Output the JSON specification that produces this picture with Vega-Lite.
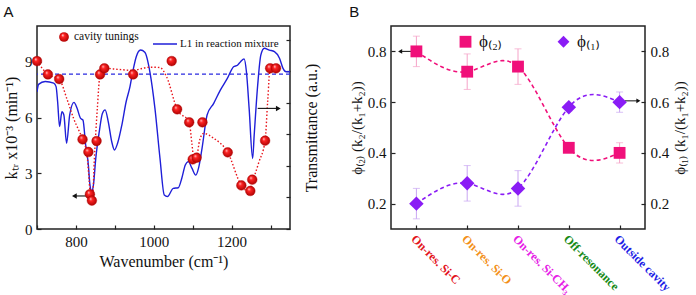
{
  "$schema": "https://vega.github.io/schema/vega-lite/v6.json",
  "background": "white",
  "padding": {"left": 2, "top": 4, "right": 0, "bottom": 0},
  "config": {
    "font": "Liberation Serif",
    "view": {"stroke": "#222", "strokeWidth": 1.5},
    "axis": {"domain": false, "grid": false, "tickColor": "#222", "tickSize": -4, "tickWidth": 1.2, "labelFont": "Liberation Serif", "labelFontSize": 15, "labelColor": "#111", "labelPadding": 9, "titleFont": "Liberation Serif", "titleFontSize": 16, "titleFontWeight": "normal", "titleColor": "#111"},
    "title": {"font": "Liberation Sans", "fontSize": 15, "fontWeight": "normal", "anchor": "start", "frame": "bounds", "color": "#111"},
    "legend": {"labelFont": "Liberation Serif", "labelColor": "#111"}
  },
  "spacing": 27,
  "resolve": {
    "scale": {"color": "independent", "shape": "independent", "stroke": "independent"},
    "legend": {"color": "independent", "shape": "independent", "stroke": "independent"}
  },
  "hconcat": [
    {
      "title": {"text": "A", "offset": 6},
      "width": 253,
      "height": 203,
      "layer": [
        {
          "data": {"values": [
            {"wn":700,"T":4.35},{"wn":704,"T":4.59},{"wn":721,"T":4.68},{"wn":743,"T":4.63},{"wn":749,"T":4.52},{"wn":753,"T":4.04},{"wn":758,"T":3.25},{"wn":764,"T":3.72},{"wn":769,"T":3.62},{"wn":776,"T":2.72},{"wn":784,"T":3.62},{"wn":795,"T":4.02},{"wn":803,"T":3.83},{"wn":812,"T":3.51},{"wn":818,"T":3.46},{"wn":825,"T":2.67},{"wn":832,"T":2.03},{"wn":836,"T":1.40},{"wn":841,"T":1.18},{"wn":845,"T":1.40},{"wn":851,"T":2.24},{"wn":860,"T":3.09},{"wn":868,"T":3.67},{"wn":875,"T":3.78},{"wn":883,"T":3.41},{"wn":892,"T":2.77},{"wn":899,"T":2.51},{"wn":907,"T":2.72},{"wn":918,"T":3.30},{"wn":929,"T":4.04},{"wn":938,"T":4.47},{"wn":946,"T":4.99},{"wn":955,"T":5.47},{"wn":966,"T":5.68},{"wn":977,"T":5.61},{"wn":990,"T":4.99},{"wn":1003,"T":3.83},{"wn":1016,"T":2.24},{"wn":1027,"T":1.08},{"wn":1035,"T":1.03},{"wn":1050,"T":1.29},{"wn":1063,"T":1.31},{"wn":1072,"T":1.61},{"wn":1081,"T":2.03},{"wn":1089,"T":2.14},{"wn":1098,"T":1.93},{"wn":1108,"T":1.71},{"wn":1115,"T":1.93},{"wn":1124,"T":2.56},{"wn":1137,"T":3.62},{"wn":1154,"T":3.99},{"wn":1171,"T":4.41},{"wn":1189,"T":4.78},{"wn":1205,"T":5.15},{"wn":1215,"T":5.2},{"wn":1223,"T":5.31},{"wn":1232,"T":5.4},{"wn":1238,"T":5.0},{"wn":1245,"T":3.83},{"wn":1254,"T":2.24},{"wn":1258,"T":2.98},{"wn":1267,"T":4.57},{"wn":1275,"T":5.52},{"wn":1284,"T":5.74},{"wn":1297,"T":5.68},{"wn":1310,"T":5.63},{"wn":1323,"T":5.42},{"wn":1332,"T":5.10},{"wn":1340,"T":4.99},{"wn":1350,"T":4.99}
          ]},
          "mark": {"type": "line", "strokeWidth": 1.4, "interpolate": "monotone", "clip": true},
          "encoding": {
            "x": {"field": "wn", "type": "quantitative", "scale": {"domain": [700, 1350], "nice": false, "zero": false},
                  "axis": {"values": [700, 800, 900, 1000, 1100, 1200, 1300], "labelExpr": "datum.value % 200 == 0 ? datum.value : ''", "title": "Wavenumber (cm⁻¹)", "titlePadding": 4}},
            "y": {"field": "T", "type": "quantitative", "scale": {"domain": [0, 6.444], "nice": false},
                  "axis": {"orient": "right", "values": [0, 1, 2, 3, 4, 5, 6], "labels": false, "title": "Transmittance (a.u.)", "titleAngle": 270, "titleBaseline": "top", "titlePadding": 13}},
            "stroke": {"datum": "L1 in reaction mixture", "type": "nominal", "scale": {"range": ["#1f1fd8"]},
                       "legend": {"title": null, "orient": "none", "legendX": 115, "legendY": 5, "symbolType": "stroke", "symbolSize": 576, "symbolStrokeWidth": 1.5, "labelFontSize": 11, "labelOffset": 2}}
          }
        },
        {
          "layer": [
            {
              "data": {"values": [{"k": 8.35}]},
              "mark": {"type": "rule", "color": "#2a2ae0", "strokeDash": [4, 3], "strokeWidth": 1.2},
              "encoding": {
                "y": {"field": "k", "type": "quantitative", "scale": {"domain": [0, 10.94], "nice": false},
                      "axis": {"orient": "left", "values": [0, 1.5, 3, 4.5, 6, 7.5, 9, 10.5], "labelExpr": "datum.value % 3 == 0 ? datum.value : ''", "title": "kₜᵣ x10⁻³ (min⁻¹)", "titlePadding": 5}}
              }
            },
            {
              "data": {"values": [
                {"wn":700,"k":9.05},{"wn":728,"k":8.33},{"wn":757,"k":8.08},{"wn":777,"k":7.0},{"wn":794,"k":5.96},{"wn":817,"k":4.83},{"wn":828,"k":4.1},{"wn":834,"k":2.6},{"wn":838,"k":1.6},{"wn":843,"k":1.7},{"wn":847,"k":3.6},{"wn":855,"k":6.5},{"wn":862,"k":8.33},{"wn":873,"k":8.66},{"wn":910,"k":8.6},{"wn":945,"k":8.55},{"wn":990,"k":8.72},{"wn":1016,"k":8.7},{"wn":1033,"k":8.2},{"wn":1060,"k":6.45},{"wn":1091,"k":5.75},{"wn":1098,"k":4.6},{"wn":1103,"k":3.8},{"wn":1110,"k":3.9},{"wn":1118,"k":4.8},{"wn":1128,"k":5.15},{"wn":1154,"k":4.89},{"wn":1190,"k":4.13},{"wn":1225,"k":2.35},{"wn":1245,"k":2.0},{"wn":1253,"k":2.5},{"wn":1270,"k":3.6},{"wn":1286,"k":4.76},{"wn":1293,"k":7.0},{"wn":1299,"k":8.66},{"wn":1314,"k":8.66}
              ]},
              "mark": {"type": "line", "color": "#e8141b", "strokeWidth": 1.4, "strokeDash": [1.5, 2], "interpolate": "monotone"},
              "encoding": {
                "x": {"field": "wn", "type": "quantitative"},
                "y": {"field": "k", "type": "quantitative"}
              }
            },
            {
              "data": {"values": [
                {"wn":829,"wn2":796,"k":1.78,"head":"left"},
                {"wn":1267,"wn2":1320,"k":6.5,"head":"right"}
              ]},
              "layer": [
                {"mark": {"type": "rule", "color": "#111", "strokeWidth": 1.1},
                 "encoding": {"x": {"field": "wn", "type": "quantitative"}, "x2": {"field": "wn2"}, "y": {"field": "k", "type": "quantitative"}}},
                {"transform": [{"filter": "datum.head == 'left'"}],
                 "mark": {"type": "point", "shape": "triangle-left", "filled": true, "color": "#111", "size": 30, "opacity": 1},
                 "encoding": {"x": {"field": "wn2", "type": "quantitative"}, "y": {"field": "k", "type": "quantitative"}}},
                {"transform": [{"filter": "datum.head == 'right'"}],
                 "mark": {"type": "point", "shape": "triangle-right", "filled": true, "color": "#111", "size": 30, "opacity": 1},
                 "encoding": {"x": {"field": "wn2", "type": "quantitative"}, "y": {"field": "k", "type": "quantitative"}}}
              ]
            },
            {
              "data": {"values": [
                {"wn":700,"k":9.05},{"wn":728,"k":8.33},{"wn":757,"k":8.08},{"wn":817,"k":4.83},{"wn":832,"k":4.15},{"wn":853,"k":4.74},{"wn":836,"k":1.87},{"wn":841,"k":1.53},{"wn":862,"k":8.33},{"wn":873,"k":8.66},{"wn":947,"k":8.33},{"wn":1046,"k":9.05},{"wn":1060,"k":6.45},{"wn":1091,"k":5.75},{"wn":1125,"k":5.75},{"wn":1100,"k":3.75},{"wn":1110,"k":3.84},{"wn":1190,"k":4.13},{"wn":1225,"k":2.35},{"wn":1248,"k":2.05},{"wn":1253,"k":2.66},{"wn":1286,"k":4.76},{"wn":1299,"k":8.66},{"wn":1314,"k":8.66}
              ]},
              "mark": {"type": "point", "filled": true, "opacity": 1, "size": 95, "strokeWidth": 0.4, "stroke": "#b00000",
                       "fill": {"gradient": "radial", "x1": 0.35, "y1": 0.3, "r1": 0, "x2": 0.5, "y2": 0.5, "r2": 0.55,
                                "stops": [{"offset": 0, "color": "#ffe0e0"}, {"offset": 0.3, "color": "#ff2424"}, {"offset": 1, "color": "#a80000"}]}},
              "encoding": {
                "x": {"field": "wn", "type": "quantitative"},
                "y": {"field": "k", "type": "quantitative"},
                "shape": {"datum": "cavity tunings", "type": "nominal", "scale": {"range": ["circle"]},
                          "legend": {"title": null, "orient": "none", "legendX": 21, "legendY": 5, "symbolSize": 95, "symbolFillColor": "#f01818", "symbolStrokeColor": "#b00000", "labelFontSize": 11.5, "labelOffset": 4}}
              }
            }
          ]
        }
      ],
      "resolve": {"scale": {"y": "independent"}}
    },
    {
      "title": {"text": "B", "offset": 6},
      "width": 254,
      "height": 203,
      "data": {"values": [
        {"pos":1,"series":"ϕ₍₂₎","phi":0.80,"lo":0.74,"hi":0.86},
        {"pos":2,"series":"ϕ₍₂₎","phi":0.72,"lo":0.65,"hi":0.79},
        {"pos":3,"series":"ϕ₍₂₎","phi":0.74,"lo":0.67,"hi":0.81},
        {"pos":4,"series":"ϕ₍₂₎","phi":0.42,"lo":0.405,"hi":0.435},
        {"pos":5,"series":"ϕ₍₂₎","phi":0.40,"lo":0.36,"hi":0.44},
        {"pos":1,"series":"ϕ₍₁₎","phi":0.20,"lo":0.14,"hi":0.26},
        {"pos":2,"series":"ϕ₍₁₎","phi":0.28,"lo":0.21,"hi":0.35},
        {"pos":3,"series":"ϕ₍₁₎","phi":0.26,"lo":0.19,"hi":0.33},
        {"pos":4,"series":"ϕ₍₁₎","phi":0.58,"lo":0.565,"hi":0.595},
        {"pos":5,"series":"ϕ₍₁₎","phi":0.60,"lo":0.56,"hi":0.64}
      ]},
      "layer": [
        {
          "transform": [{"filter": "datum.series == 'ϕ₍₂₎'"}],
          "layer": [
            {
              "mark": {"type": "errorbar", "ticks": {"size": 7}, "color": "#f5a3c8", "rule": {"strokeWidth": 1}},
              "encoding": {
                "x": {"field": "pos", "type": "quantitative", "scale": {"domain": [0.5, 5.5], "nice": false, "zero": false},
                      "axis": {"values": [1, 1.5, 2, 2.5, 3, 3.5, 4, 4.5, 5], "title": null, "labelAngle": 45, "labelAlign": "left", "labelBaseline": "top", "labelFontWeight": "bold", "labelFontSize": 12, "labelOverlap": false, "labelBound": false, "labelFlush": false, "labelPadding": 8,
                               "labelExpr": "datum.value == 1 ? 'On-res. Si-C' : datum.value == 2 ? 'On-res. Si-O' : datum.value == 3 ? 'On-res. Si-CH₃' : datum.value == 4 ? 'Off-resonance' : datum.value == 5 ? 'Outside cavity' : ''",
                               "labelColor": {"condition": [{"test": "datum.value == 1", "value": "#e3141c"}, {"test": "datum.value == 2", "value": "#f39019"}, {"test": "datum.value == 3", "value": "#e620e6"}, {"test": "datum.value == 4", "value": "#168a16"}], "value": "#1e1ee6"}}},
                "y": {"field": "lo", "type": "quantitative", "scale": {"domain": [0.1, 0.9], "nice": false, "zero": false},
                      "axis": {"orient": "left", "values": [0.2, 0.3, 0.4, 0.5, 0.6, 0.7, 0.8], "labelExpr": "round(datum.value * 10) % 2 == 0 ? format(datum.value, '.1f') : ''", "title": "ϕ₍₂₎ (k₂/(k₁+k₂))", "titleFontSize": 15, "titlePadding": 3}},
                "y2": {"field": "hi"}
              }
            },
            {
              "mark": {"type": "line", "color": "#f0107a", "strokeDash": [4, 3], "strokeWidth": 1.6, "interpolate": "natural"},
              "encoding": {"x": {"field": "pos", "type": "quantitative"}, "y": {"field": "phi", "type": "quantitative"}}
            },
            {
              "data": {"values": [{"pos": 0.95, "pos2": 0.68, "phi": 0.8}]},
              "layer": [
                {"mark": {"type": "rule", "color": "#111", "strokeWidth": 1},
                 "encoding": {"x": {"field": "pos", "type": "quantitative"}, "x2": {"field": "pos2"}, "y": {"field": "phi", "type": "quantitative"}}},
                {"mark": {"type": "point", "shape": "triangle-left", "filled": true, "color": "#111", "size": 22, "opacity": 1},
                 "encoding": {"x": {"field": "pos2", "type": "quantitative"}, "y": {"field": "phi", "type": "quantitative"}}}
              ]
            },
            {
              "mark": {"type": "point", "filled": true, "opacity": 1, "size": 140},
              "encoding": {
                "x": {"field": "pos", "type": "quantitative"},
                "y": {"field": "phi", "type": "quantitative"},
                "color": {"field": "series", "type": "nominal", "scale": {"domain": ["ϕ₍₂₎", "ϕ₍₁₎"], "range": ["#f0107a", "#8a1cf5"]},
                          "legend": {"title": null, "orient": "none", "direction": "horizontal", "legendX": 66, "legendY": 7, "labelFontSize": 17, "symbolSize": 140, "columnPadding": 53, "labelOffset": 5}},
                "shape": {"field": "series", "type": "nominal", "scale": {"domain": ["ϕ₍₂₎", "ϕ₍₁₎"], "range": ["square", "diamond"]},
                          "legend": {"title": null, "orient": "none", "direction": "horizontal", "legendX": 66, "legendY": 7, "labelFontSize": 17, "symbolSize": 140, "columnPadding": 53, "labelOffset": 5}}
              }
            }
          ]
        },
        {
          "transform": [{"filter": "datum.series == 'ϕ₍₁₎'"}],
          "layer": [
            {
              "mark": {"type": "errorbar", "ticks": {"size": 7}, "color": "#c9a6f2", "rule": {"strokeWidth": 1}},
              "encoding": {
                "x": {"field": "pos", "type": "quantitative"},
                "y": {"field": "lo", "type": "quantitative", "scale": {"domain": [0.1, 0.9], "nice": false, "zero": false},
                      "axis": {"orient": "right", "values": [0.2, 0.3, 0.4, 0.5, 0.6, 0.7, 0.8], "labelExpr": "round(datum.value * 10) % 2 == 0 ? format(datum.value, '.1f') : ''", "title": "ϕ₍₁₎ (k₁/(k₁+k₂))", "titleFontSize": 15, "titleAngle": 270, "titleBaseline": "top", "titlePadding": 4}},
                "y2": {"field": "hi"}
              }
            },
            {
              "mark": {"type": "line", "color": "#8a1cf5", "strokeDash": [4, 3], "strokeWidth": 1.6, "interpolate": "natural"},
              "encoding": {"x": {"field": "pos", "type": "quantitative"}, "y": {"field": "phi", "type": "quantitative"}}
            },
            {
              "data": {"values": [{"pos": 5.1, "pos2": 5.37, "phi": 0.605}]},
              "layer": [
                {"mark": {"type": "rule", "color": "#111", "strokeWidth": 1},
                 "encoding": {"x": {"field": "pos", "type": "quantitative"}, "x2": {"field": "pos2"}, "y": {"field": "phi", "type": "quantitative"}}},
                {"mark": {"type": "point", "shape": "triangle-right", "filled": true, "color": "#111", "size": 22, "opacity": 1},
                 "encoding": {"x": {"field": "pos2", "type": "quantitative"}, "y": {"field": "phi", "type": "quantitative"}}}
              ]
            },
            {
              "mark": {"type": "point", "filled": true, "opacity": 1, "size": 210},
              "encoding": {
                "x": {"field": "pos", "type": "quantitative"},
                "y": {"field": "phi", "type": "quantitative"},
                "color": {"field": "series", "type": "nominal"},
                "shape": {"field": "series", "type": "nominal"}
              }
            }
          ]
        }
      ],
      "resolve": {"scale": {"y": "independent"}}
    }
  ]
}
